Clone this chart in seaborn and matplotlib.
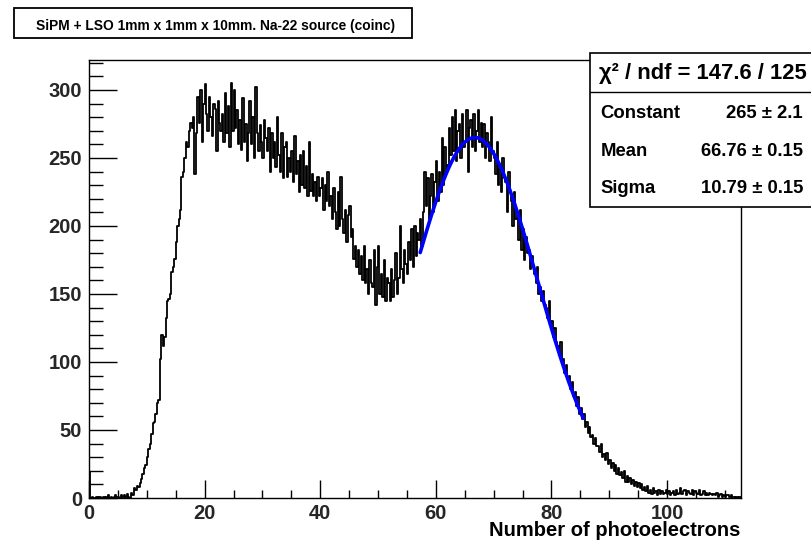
import numpy as np
import pandas as pd
import matplotlib
matplotlib.use("Agg")
import matplotlib.pyplot as plt
import seaborn as sns
from matplotlib import font_manager
from matplotlib.patches import Rectangle
from matplotlib.lines import Line2D
from matplotlib.ticker import MultipleLocator

# ---------------- data ----------------
bin_width = 0.25
counts = [
    19, 0, 1, 0,   0, 1, 0, 1,   0, 0, 1, 0,   1, 2, 0, 1,   0, 1, 2, 1,          # 0-4
    1, 0, 2, 1,    2, 1, 3, 1,   0, 4, 2, 7,   6, 9, 8, 11,  14, 18, 22, 24,      # 5-9
    30, 36, 40, 47,  55, 56, 62, 70,  72, 102, 120, 112,  118, 132, 145, 146,  150, 166, 170, 176,  # 10-14
    188, 200, 205, 212,  236, 240, 250, 262,  258, 270, 276, 272,  280, 238, 268, 295,  276, 300, 262, 290,  # 15-19
    304, 282, 270, 295,  280, 266, 290, 286,  255, 292, 276, 270,  282, 262, 298, 268,  288, 258, 305, 270,  # 20-24
    300, 272, 285, 260,  278, 256, 294, 262,  275, 248, 268, 292,  260, 280, 250, 302,  268, 255, 274, 262,  # 25-29
    250, 278, 265, 255,  272, 240, 268, 250,  262, 243, 280, 252,  240, 268, 235, 258,  262, 236, 250, 240,  # 30-34
    255, 232, 266, 238,  248, 225, 252, 230,  255, 228, 244, 222,  262, 226, 238, 222,  232, 218, 236, 222,  # 35-39
    228, 235, 212, 230,  218, 240, 215, 222,  205, 228, 210, 198,  225, 200, 236, 205,  195, 212, 188, 208,  # 40-44
    215, 192, 198, 176,  185, 170, 182, 165,  178, 160, 185, 158,  168, 150, 175, 158,  155, 182, 142, 170,  # 45-49
    185, 150, 165, 148,  175, 145, 162, 158,  145, 168, 148, 160,  180, 150, 162, 200,  168, 158, 182, 172,  # 50-54
    165, 188, 175, 198,  170, 200, 178, 195,  190, 205, 185, 210,  240, 215, 235, 205,  222, 238, 210, 232,  # 55-59
    248, 218, 240, 225,  265, 230, 258, 240,  245, 272, 252, 280,  255, 285, 248, 270,  275, 250, 282, 258,  # 60-64
    262, 285, 240, 272,  278, 258, 282, 255,  270, 285, 262, 276,  258, 275, 250, 268,  262, 248, 280, 255,  # 65-69
    250, 238, 262, 230,  242, 225, 250, 235,  232, 210, 240, 225,  218, 200, 225, 205,  208, 190, 212, 182,  # 70-74
    198, 175, 192, 180,  182, 168, 178, 170,  165, 158, 170, 150,  155, 145, 152, 142,  140, 132, 145, 128,  # 75-79
    130, 118, 125, 115,  112, 105, 115, 100,  102, 92, 98, 88,  90, 80, 85, 75,  78, 68, 74, 62,            # 80-84
    66, 58, 62, 52,  56, 48, 52, 45,  46, 40, 44, 38,  38, 34, 40, 30,  32, 28, 33, 25,                      # 85-89
    28, 22, 26, 20,  24, 18, 22, 17,  19, 15, 20, 12,  16, 12, 15, 10,  13, 9, 12, 8,                        # 90-94
    11, 7, 10, 6,  8, 5, 9, 4,  6, 3, 7, 4,  5, 2, 6, 3,  5, 3, 4, 6,                                         # 95-99
    3, 5, 2, 4,  5, 2, 6, 3,  4, 7, 3, 5,  6, 2, 5, 4,  3, 6, 2, 5,                                           # 100-104
    4, 3, 6, 2,  3, 5, 2, 4,  2, 4, 3, 2,  3, 2, 4, 1,  2, 3, 1, 2,                                           # 105-109
    1, 2, 2, 1,  2, 1, 1, 0,  1, 0, 1, 0,                                                                     # 110-112
]

fit_constant = 265.0
fit_mean = 66.76
fit_sigma = 10.79
fit_range = [57.3, 85.5]

title_text = "SiPM + LSO 1mm x 1mm x 10mm. Na-22 source (coinc)"
x_label = "Number of photoelectrons"
stat_header = "χ² / ndf = 147.6 / 125"
stat_names = ["Constant", "Mean", "Sigma"]
stat_values = ["265 ± 2.1", "66.76 ± 0.15", "10.79 ± 0.15"]
x_ticks = [0, 20, 40, 60, 80, 100]
y_ticks = [0, 50, 100, 150, 200, 250, 300]

# ---------------- figure ----------------
sns.set_theme(style="white")
plt.rcParams['font.family'] = ['Liberation Sans', 'DejaVu Sans']
plt.rcParams['font.weight'] = 'bold'

installed = {f.name for f in font_manager.fontManager.ttflist}
if 'Liberation Sans Narrow' in installed:
    title_family, title_size = ['Liberation Sans Narrow', 'DejaVu Sans'], 12.2
else:
    title_family, title_size = ['Liberation Sans', 'DejaVu Sans'], 9.9

W, H = 811, 544
fig = plt.figure(figsize=(W / 100, H / 100), dpi=100)
fig.patch.set_facecolor("white")

ax_l, ax_r, ax_t, ax_b = 89, 741, 60, 498
ax = fig.add_axes([ax_l / W, 1 - ax_b / H, (ax_r - ax_l) / W, (ax_b - ax_t) / H])
ax.set_facecolor("white")

edges = [i * bin_width for i in range(len(counts) + 1)]
centers = [(i + 0.5) * bin_width for i in range(len(counts))]
df = pd.DataFrame({"x": centers, "w": counts})
sns.histplot(data=df, x="x", weights="w", bins=edges, element="step", fill=False,
             color="black", linewidth=1.3, ax=ax)

xs = np.linspace(fit_range[0], fit_range[1], 300)
ys = fit_constant * np.exp(-0.5 * ((xs - fit_mean) / fit_sigma) ** 2)
sns.lineplot(x=xs, y=ys, color="#0000ff", linewidth=2.6, ax=ax)

ax.set_xlim(0, 112.8)
ax.set_ylim(0, 322)
ax.set_xticks(x_ticks)
ax.set_yticks(y_ticks)
ax.xaxis.set_minor_locator(MultipleLocator(5))
ax.yaxis.set_minor_locator(MultipleLocator(10))
ax.tick_params(axis="x", which="major", direction="in", length=13, width=1, color="black",
               labelsize=14.5, pad=4, bottom=True, top=False)
ax.tick_params(axis="x", which="minor", direction="in", length=6, width=1, color="black",
               bottom=True, top=False)
ax.tick_params(axis="y", which="major", direction="in", length=20, width=1, color="black",
               labelsize=14.5, pad=5, left=True, right=False)
ax.tick_params(axis="y", which="minor", direction="in", length=10, width=1, color="black",
               left=True, right=False)
for lab in ax.get_xticklabels() + ax.get_yticklabels():
    lab.set_fontweight("bold")
for s in ax.spines.values():
    s.set_color("black")
    s.set_linewidth(1.0)
ax.set_ylabel("")
ax.set_xlabel("")
fig.text(740 / W, 1 - 536 / H, x_label, ha="right", va="baseline", fontsize=14.5,
         fontweight="bold", color="black")

# title box
fig.patches.append(Rectangle((14 / W, 1 - 38 / H), 398 / W, 30.5 / H, transform=fig.transFigure,
                             facecolor="white", edgecolor="black", linewidth=1.3, zorder=5))
fig.text(216 / W, 1 - 30 / H, title_text, ha="center", va="baseline", fontsize=title_size,
         family=title_family, fontweight="bold", color="black", zorder=6)

# stats box
fig.patches.append(Rectangle((590 / W, 1 - 207 / H), 240 / W, 154 / H, transform=fig.transFigure,
                             facecolor="white", edgecolor="black", linewidth=1.2, zorder=5))
fig.lines.append(Line2D([590 / W, 1.0], [1 - 92 / H, 1 - 92 / H], transform=fig.transFigure,
                        color="black", linewidth=1.0, zorder=6))
fig.text(702.5 / W, 1 - 78.5 / H, stat_header, ha="center", va="baseline", fontsize=15.8,
         fontweight="bold", color="black", zorder=7)
row_y = [118, 156.5, 193]
for name, val, yy in zip(stat_names, stat_values, row_y):
    fig.text(600.5 / W, 1 - yy / H, name, ha="left", va="baseline", fontsize=13.3,
             fontweight="bold", color="black", zorder=7)
    fig.text(803 / W, 1 - yy / H, val, ha="right", va="baseline", fontsize=13.3,
             fontweight="bold", color="black", zorder=7)

fig.savefig("out.png", dpi=100, facecolor="white")
